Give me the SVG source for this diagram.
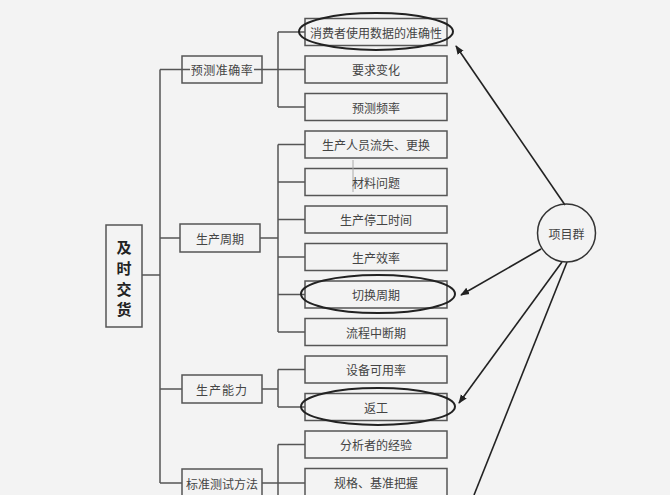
<svg xmlns="http://www.w3.org/2000/svg" width="670" height="495" viewBox="0 0 670 495">
<style>
.bx{fill:none;stroke:#555;stroke-width:1.5}
.ln{fill:none;stroke:#555;stroke-width:1.5}
.el{fill:none;stroke:#222;stroke-width:2}
.ar{fill:none;stroke:#222;stroke-width:1.6;marker-end:url(#ah)}
.t{font-family:"Noto Sans CJK SC","Noto Sans CJK JP",sans-serif;font-size:12px;fill:#444;text-anchor:middle;dominant-baseline:central}
.m{font-family:"Noto Sans CJK SC",sans-serif;font-size:15px;font-weight:bold;fill:#222;text-anchor:middle;dominant-baseline:central}
</style>
<defs>
<marker id="ah" viewBox="0 0 10 10" refX="9" refY="5" markerWidth="9" markerHeight="9" markerUnits="userSpaceOnUse" orient="auto">
<path d="M0,1 L10,5 L0,9 Z" fill="#222"/>
</marker>
</defs>
<rect width="670" height="495" fill="#f3f3f3"/>
<g id="connectors">
<path class="ln" d="M142,275 H160 M160,69.5 V483 M160,69.5 H305 M160,238 H180 M160,389 H182 M160,483 H182"/>
<path class="ln" d="M278,32 V107 M278,32 H305 M278,107 H305"/>
<path class="ln" d="M260,238 H278 M278,144.5 V332 M278,144.5 H305 M278,182 H305 M278,219.5 H305 M278,257 H305 M278,294.5 H305 M278,332 H305"/>
<path class="ln" d="M262,389 H278 M278,369.5 V407 M278,369.5 H305 M278,407 H305"/>
<path class="ln" d="M262,483 H305 M278,444.5 V495 M278,444.5 H305"/>
<line x1="565" y1="205" x2="456" y2="46" class="ar"/>
<line x1="541" y1="249" x2="461" y2="295" class="ar"/>
<line x1="562" y1="262" x2="459" y2="403" class="ar"/>
<line x1="567" y1="262" x2="474" y2="495" style="stroke:#222;stroke-width:1.6"/>
</g>
<g id="n-main"><rect class="bx" x="106" y="225" width="36" height="102"/>
<text class="m" x="124" y="246">及</text><text class="m" x="124" y="267">时</text><text class="m" x="124" y="288">交</text><text class="m" x="124" y="308">货</text></g>
<g id="n-yc"><rect class="bx" x="182" y="56" width="80" height="27"/><rect x="190" y="62" width="64" height="15" fill="#f3f3f3"/><text class="t" x="222" y="69.5" letter-spacing="0.5">预测准确率</text></g>
<g id="n-sczq"><rect class="bx" x="180" y="224" width="80" height="28"/><text class="t" x="220" y="238">生产周期</text></g>
<g id="n-scnl"><rect class="bx" x="182" y="375" width="80" height="28"/><text class="t" x="222" y="389" letter-spacing="1">生产能力</text></g>
<g id="n-bzcs"><rect class="bx" x="182" y="469" width="80" height="28"/><text class="t" x="222" y="483">标准测试方法</text></g>
<g id="n1"><rect class="bx" x="305" y="18.5" width="142" height="27"/><text class="t" x="376" y="32">消费者使用数据的准确性</text></g>
<g id="n2"><rect class="bx" x="305" y="56" width="142" height="27"/><text class="t" x="376" y="69.5">要求变化</text></g>
<g id="n3"><rect class="bx" x="305" y="93.5" width="142" height="27"/><text class="t" x="376" y="107">预测频率</text></g>
<g id="n4"><rect class="bx" x="305" y="131" width="142" height="27"/><text class="t" x="376" y="144.5">生产人员流失、更换</text></g>
<g id="n5"><rect class="bx" x="305" y="168.5" width="142" height="27"/><line x1="353" y1="160" x2="353" y2="192" stroke="#aaa" stroke-width="1"/><text class="t" x="376" y="182">材料问题</text></g>
<g id="n6"><rect class="bx" x="305" y="206" width="142" height="27"/><text class="t" x="376" y="219.5">生产停工时间</text></g>
<g id="n7"><rect class="bx" x="305" y="243.5" width="142" height="27"/><text class="t" x="376" y="257">生产效率</text></g>
<g id="n8"><rect class="bx" x="305" y="281" width="142" height="27"/><text class="t" x="376" y="294.5">切换周期</text></g>
<g id="n9"><rect class="bx" x="305" y="318.5" width="142" height="27"/><text class="t" x="376" y="332">流程中断期</text></g>
<g id="n10"><rect class="bx" x="305" y="356" width="142" height="27"/><text class="t" x="376" y="369.5">设备可用率</text></g>
<g id="n11"><rect class="bx" x="305" y="393.5" width="142" height="27"/><text class="t" x="376" y="407">返工</text></g>
<g id="n12"><rect class="bx" x="305" y="431" width="142" height="27"/><text class="t" x="376" y="444.5">分析者的经验</text></g>
<g id="n13"><rect class="bx" x="305" y="468.5" width="142" height="28"/><text class="t" x="376" y="482">规格、基准把握</text></g>
<g id="ellipses">
<ellipse class="el" cx="376" cy="31.5" rx="77" ry="18.5"/>
<ellipse class="el" cx="378" cy="294" rx="77" ry="19"/>
<ellipse class="el" cx="378" cy="406.5" rx="77" ry="18.5"/>
</g>
<g id="n-xmq"><circle cx="566.5" cy="233" r="29" fill="none" stroke="#333" stroke-width="1.5"/><text class="t" x="566.5" y="233">项目群</text></g>
</svg>
